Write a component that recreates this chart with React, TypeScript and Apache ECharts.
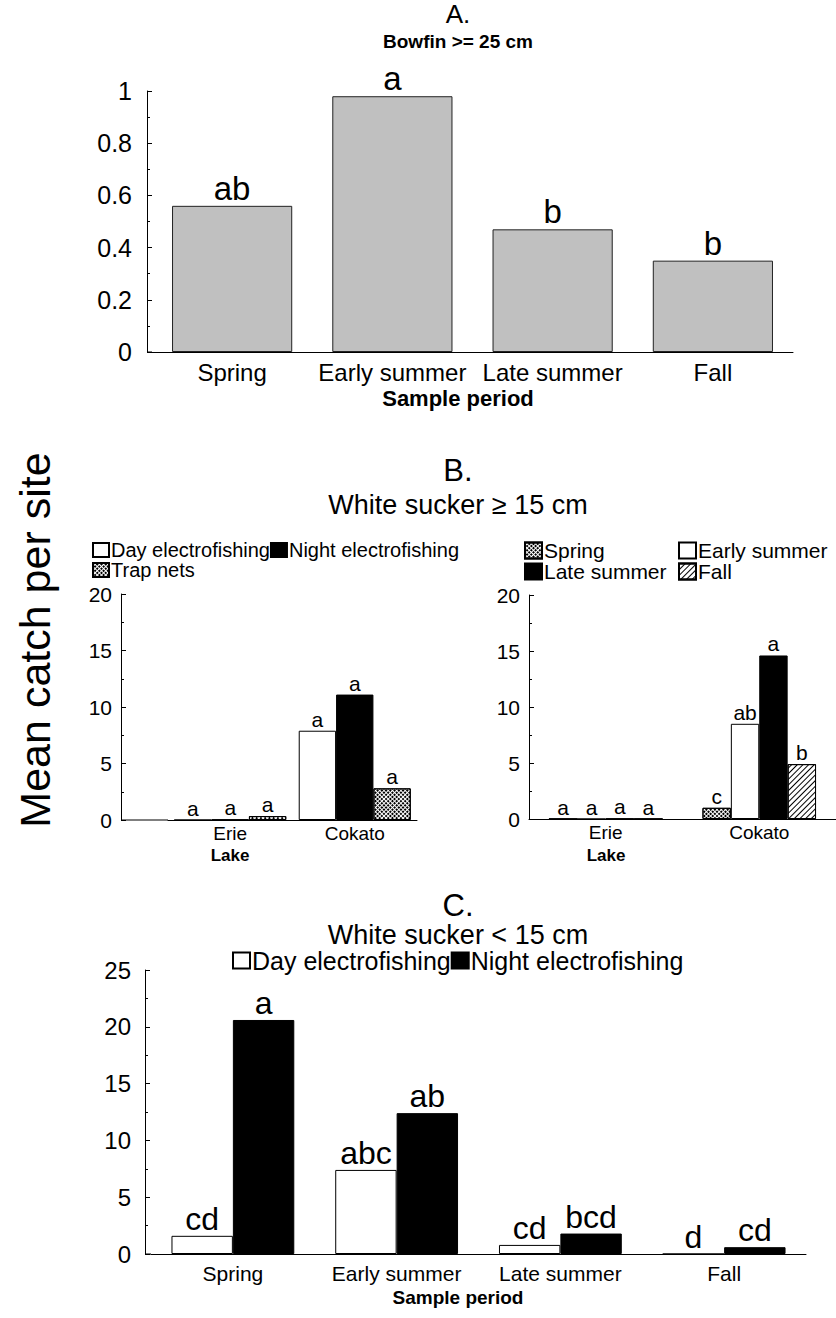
import React, { useEffect, useRef } from 'react';
import * as echarts from 'echarts';

const FONT = '"Liberation Sans", Arial, Helvetica, sans-serif';

// ---------- Panel A: Bowfin >= 25 cm ----------
const periods = ['Spring', 'Early summer', 'Late summer', 'Fall'];
const bowfinMeans = [0.56, 0.98, 0.47, 0.35];
const bowfinLetters = ['ab', 'a', 'b', 'b'];

// ---------- Panel B: White sucker >= 15 cm ----------
const lakes = ['Erie', 'Cokato'];
const gearNames = ['Day electrofishing', 'Night electrofishing', 'Trap nets'];
const gearDay = [0, 7.9];
const gearNight = [0.05, 11.1];
const gearTrap = [0.35, 2.8];
const gearDayLetters = ['a', 'a'];
const gearNightLetters = ['a', 'a'];
const gearTrapLetters = ['a', 'a'];

const seasonNames = ['Spring', 'Early summer', 'Late summer', 'Fall'];
const seasonSpring = [0, 1.0];
const seasonEarly = [0, 8.5];
const seasonLate = [0.05, 14.6];
const seasonFall = [0, 4.9];
const seasonSpringLetters = ['a', 'c'];
const seasonEarlyLetters = ['a', 'ab'];
const seasonLateLetters = ['a', 'a'];
const seasonFallLetters = ['a', 'b'];

// ---------- Panel C: White sucker < 15 cm ----------
const smallDay = [1.6, 7.4, 0.8, 0];
const smallNight = [20.6, 12.4, 1.8, 0.6];
const smallDayLetters = ['cd', 'abc', 'cd', 'd'];
const smallNightLetters = ['a', 'ab', 'bcd', 'cd'];

// ---------- layout ----------
const G = {
  A: { left: 152, top: 91, width: 641, height: 261, yOff: 5 },
  BL: { left: 168, top: 594, width: 249, height: 226, yOff: 47 },
  BR: { left: 529, top: 595, width: 308, height: 224, yOff: 0 },
  C: { left: 151, top: 970, width: 655, height: 284, yOff: 6 },
};

const checker = {
  symbol: 'rect', symbolSize: 1, dashArrayX: [2, 1], dashArrayY: [2, 1],
  rotation: Math.PI / 4, color: '#000',
};
const diagonal = {
  symbol: 'rect', symbolSize: 1, dashArrayX: [1, 0], dashArrayY: [1, 3],
  rotation: -Math.PI / 4, color: '#000',
};

const whiteStyle = { color: '#fff', borderColor: '#000', borderWidth: 1 };
const blackStyle = { color: '#000', borderColor: '#000', borderWidth: 1 };
const greyStyle = { color: '#c0c0c0', borderColor: '#222', borderWidth: 1 };
const checkStyle = { color: '#fff', borderColor: '#000', borderWidth: 1, decal: checker };
const hatchStyle = { color: '#fff', borderColor: '#000', borderWidth: 1, decal: diagonal };

function yAxis(gridIndex: number, max: number, interval: number, fontSize: number, offset: number, margin: number) {
  return {
    type: 'value', gridIndex, min: 0, max, interval, offset,
    axisLine: { show: true, lineStyle: { color: '#000', width: 1 } },
    axisTick: { show: true, inside: true, length: 5, lineStyle: { color: '#000' } },
    minorTick: { show: true, splitNumber: 2, length: 3, lineStyle: { color: '#000' } },
    splitLine: { show: false },
    axisLabel: { color: '#000', fontSize, fontFamily: FONT, margin },
  };
}

function xAxis(gridIndex: number, data: string[], fontSize: number, margin: number, ticks: boolean) {
  return {
    type: 'category', gridIndex, data,
    axisLine: { show: true, lineStyle: { color: '#000', width: 1 } },
    axisTick: { show: ticks, inside: true, alignWithLabel: true, length: 5, lineStyle: { color: '#000' } },
    axisLabel: { color: '#000', fontSize, fontFamily: FONT, margin, interval: 0 },
    splitLine: { show: false },
  };
}

function bar(name: string, data: number[], letters: string[], axis: number, style: any,
  labelSize: number, gap: string) {
  return {
    type: 'bar', name, data, xAxisIndex: axis, yAxisIndex: axis,
    barGap: '0%', barCategoryGap: gap,
    itemStyle: style,
    emphasis: { disabled: true },
    label: {
      show: true, position: 'top', distance: 1, fontSize: labelSize, fontFamily: FONT, color: '#000',
      formatter: (p: any) => letters[p.dataIndex],
    },
  };
}

function txt(text: string, x: number, y: number, fontSize: number, bold = false, rotation = 0) {
  return {
    type: 'text', x, y, rotation,
    style: {
      text, fontSize, fontFamily: FONT, fontWeight: bold ? 'bold' : 'normal', fill: '#000',
      textAlign: 'center', textVerticalAlign: 'middle', align: 'center', verticalAlign: 'middle',
    },
  };
}

function axisExt(g: any) {
  const y = g.top + g.height;
  return {
    type: 'line', shape: { x1: g.left - g.yOff, y1: y, x2: g.left, y2: y },
    style: { stroke: '#000', lineWidth: 1 },
  };
}

const legendText = (fontSize: number, lineHeight?: number) => ({
  fontSize, fontFamily: FONT, color: '#000', lineHeight, padding: [0, 0, 0, -3],
});

export default function App() {
  const ref = useRef<HTMLDivElement>(null);
  useEffect(() => {
    if (!ref.current) return;
    const chart = echarts.init(ref.current, null, { renderer: 'svg' });
    const option: any = {
      animation: false,
      backgroundColor: '#fff',
      textStyle: { fontFamily: FONT },
      grid: [G.A, G.BL, G.BR, G.C].map((g) => ({ left: g.left, top: g.top, width: g.width, height: g.height })),
      xAxis: [
        xAxis(0, periods, 24, 8, true),
        xAxis(1, lakes, 19, 4, false),
        xAxis(2, lakes, 19, 4, false),
        xAxis(3, periods, 21, 9, false),
      ],
      yAxis: [
        yAxis(0, 1, 0.2, 25, G.A.yOff, 15),
        yAxis(1, 20, 5, 21, G.BL.yOff, 9),
        yAxis(2, 20, 5, 21, G.BR.yOff, 9),
        yAxis(3, 25, 5, 24, G.C.yOff, 14),
      ],
      legend: [
        {
          left: 92, top: 540, width: 370, orient: 'horizontal', itemGap: 0, itemWidth: 16, itemHeight: 14,
          icon: 'rect', padding: 0, selectedMode: false, data: gearNames, textStyle: legendText(20),
        },
        {
          left: 524, top: 540, orient: 'vertical', itemGap: 0, itemWidth: 17, itemHeight: 16,
          icon: 'rect', padding: 0, selectedMode: false, data: [seasonNames[0], seasonNames[2]],
          textStyle: legendText(21, 20),
        },
        {
          left: 678, top: 540, orient: 'vertical', itemGap: 0, itemWidth: 17, itemHeight: 16,
          icon: 'rect', padding: 0, selectedMode: false, data: [seasonNames[1], seasonNames[3]],
          textStyle: legendText(21, 20),
        },
        {
          left: 232, top: 948, orient: 'horizontal', itemGap: 0, itemWidth: 17, itemHeight: 16,
          icon: 'rect', padding: 0, selectedMode: false, data: [gearNames[0], gearNames[1]],
          textStyle: legendText(25),
        },
      ],
      series: [
        bar('Bowfin', bowfinMeans, bowfinLetters, 0, greyStyle, 33, '25%'),
        bar(gearNames[0], gearDay, gearDayLetters, 1, whiteStyle, 21, '10%'),
        bar(gearNames[1], gearNight, gearNightLetters, 1, blackStyle, 21, '10%'),
        bar(gearNames[2], gearTrap, gearTrapLetters, 1, checkStyle, 21, '10%'),
        bar(seasonNames[0], seasonSpring, seasonSpringLetters, 2, checkStyle, 21, '26%'),
        bar(seasonNames[1], seasonEarly, seasonEarlyLetters, 2, whiteStyle, 21, '26%'),
        bar(seasonNames[2], seasonLate, seasonLateLetters, 2, blackStyle, 21, '26%'),
        bar(seasonNames[3], seasonFall, seasonFallLetters, 2, hatchStyle, 21, '26%'),
        bar(gearNames[0], smallDay, smallDayLetters, 3, whiteStyle, 32, '25%'),
        bar(gearNames[1], smallNight, smallNightLetters, 3, blackStyle, 32, '25%'),
      ],
      graphic: [
        txt('A.', 458, 14, 26),
        txt('Bowfin >= 25 cm', 458, 41, 19, true),
        txt('Sample period', 458, 398, 22, true),
        txt('B.', 458, 470, 31),
        txt('White sucker \u2265 15 cm', 458, 505, 27),
        txt('Lake', 230, 855, 17, true),
        txt('Lake', 606, 855, 17, true),
        txt('C.', 458, 905, 31),
        txt('White sucker < 15 cm', 458, 935, 27),
        txt('Sample period', 458, 1297, 19, true),
        txt('Mean catch per site', 35, 640, 43, false, Math.PI / 2),
        axisExt(G.A),
        axisExt(G.BL),
        axisExt(G.C),
      ],
    };
    chart.setOption(option);
    return () => chart.dispose();
  }, []);
  return (
    <div
      ref={ref}
      style={{ position: 'absolute', left: 0, top: 0, width: 836, height: 1318, background: '#fff' }}
    />
  );
}
